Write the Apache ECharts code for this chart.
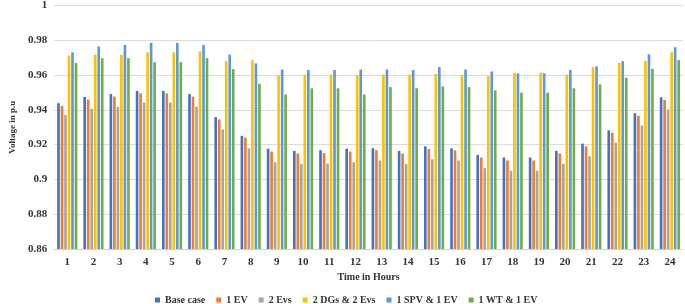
<!DOCTYPE html>
<html>
<head>
<meta charset="utf-8">
<script src="https://cdn.jsdelivr.net/npm/echarts@6/dist/echarts.min.js"></script>
<style>
  html, body { margin: 0; padding: 0; background: #fff; }
  #chart { width: 685px; height: 304px; }
</style>
</head>
<body>
<div id="chart"></div>
<script>
const hours = ['1','2','3','4','5','6','7','8','9','10','11','12','13','14','15','16','17','18','19','20','21','22','23','24'];

const baseCase = [0.9438, 0.9474, 0.9491, 0.9509, 0.9509, 0.9491, 0.9358, 0.9251, 0.9177, 0.9164, 0.9168, 0.9177,
  0.9179, 0.9164, 0.9190, 0.9179, 0.9141, 0.9126, 0.9126, 0.9164, 0.9206, 0.9282, 0.9381, 0.9472];
const oneEv = [0.9423, 0.9459, 0.9476, 0.9495, 0.9495, 0.9476, 0.9345, 0.9240, 0.9160, 0.9149, 0.9152, 0.9160,
  0.9168, 0.9149, 0.9175, 0.9168, 0.9126, 0.9109, 0.9109, 0.9149, 0.9190, 0.9269, 0.9366, 0.9457];
const twoEvs = [0.9370, 0.9406, 0.9417, 0.9442, 0.9442, 0.9419, 0.9288, 0.9179, 0.9099, 0.9088, 0.9091, 0.9099,
  0.9109, 0.9088, 0.9116, 0.9109, 0.9065, 0.9050, 0.9050, 0.9090, 0.9133, 0.9211, 0.9310, 0.9402];
const twoDgsTwoEvs = [0.9712, 0.9716, 0.9716, 0.9731, 0.9731, 0.9737, 0.9682, 0.9686, 0.9598, 0.9602, 0.9602, 0.9598,
  0.9602, 0.9602, 0.9606, 0.9602, 0.9594, 0.9613, 0.9613, 0.9602, 0.9646, 0.9670, 0.9682, 0.9731];
const oneSpvOneEv = [0.9731, 0.9764, 0.9773, 0.9785, 0.9785, 0.9773, 0.9718, 0.9667, 0.9632, 0.9629, 0.9629, 0.9632,
  0.9632, 0.9629, 0.9646, 0.9632, 0.9621, 0.9610, 0.9610, 0.9629, 0.9650, 0.9680, 0.9720, 0.9760];
const oneWtOneEv = [0.9669, 0.9697, 0.9697, 0.9674, 0.9674, 0.9697, 0.9634, 0.9550, 0.9488, 0.9524, 0.9524, 0.9488,
  0.9531, 0.9524, 0.9535, 0.9531, 0.9512, 0.9499, 0.9499, 0.9524, 0.9547, 0.9585, 0.9636, 0.9686];

const seriesDefs = [
  { name: 'Base case', data: baseCase, color: '#4472C4' },
  { name: '1 EV', data: oneEv, color: '#ED7D31' },
  { name: '2 Evs', data: twoEvs, color: '#A5A5A5' },
  { name: '2 DGs & 2 Evs', data: twoDgsTwoEvs, color: '#FFC000' },
  { name: '1 SPV & 1 EV', data: oneSpvOneEv, color: '#5B9BD5' },
  { name: '1 WT & 1 EV', data: oneWtOneEv, color: '#70AD47' }
];

const serif = '"Liberation Serif", "DejaVu Serif", serif';

const chart = echarts.init(document.getElementById('chart'));
chart.setOption({
  animation: false,
  grid: { left: 41, right: 2, top: 4, bottom: 55 },
  legend: {
    left: 150,
    top: 290,
    itemWidth: 5,
    itemHeight: 5,
    itemGap: 11,
    icon: 'rect',
    textStyle: { fontFamily: serif, fontWeight: 'bold', fontSize: 10, color: '#333' },
    data: seriesDefs.map((s) => s.name)
  },
  xAxis: {
    type: 'category',
    data: hours,
    name: 'Time in Hours',
    nameLocation: 'middle',
    nameGap: 22,
    nameTextStyle: { fontFamily: serif, fontWeight: 'bold', fontSize: 10, color: '#333' },
    axisLine: { lineStyle: { color: '#d0d0d0' } },
    axisTick: { show: false },
    axisLabel: { fontFamily: serif, fontWeight: 'bold', fontSize: 11, color: '#333', margin: 8 }
  },
  yAxis: {
    type: 'value',
    min: 0.86,
    max: 1,
    interval: 0.02,
    name: 'Voltage in p.u',
    nameLocation: 'middle',
    nameGap: 33,
    nameTextStyle: { fontFamily: serif, fontWeight: 'bold', fontSize: 9, color: '#333' },
    axisLine: { show: false },
    axisTick: { show: false },
    axisLabel: {
      fontFamily: serif, fontWeight: 'bold', fontSize: 11, color: '#333', margin: 7,
      formatter: (v) => String(Math.round(v * 100) / 100)
    },
    splitLine: { lineStyle: { color: '#dcdcdc' } }
  },
  series: seriesDefs.map((s) => ({
    name: s.name,
    type: 'bar',
    data: s.data,
    barGap: '33%',
    barCategoryGap: '23%',
    itemStyle: { color: s.color }
  }))
});
</script>
</body>
</html>
